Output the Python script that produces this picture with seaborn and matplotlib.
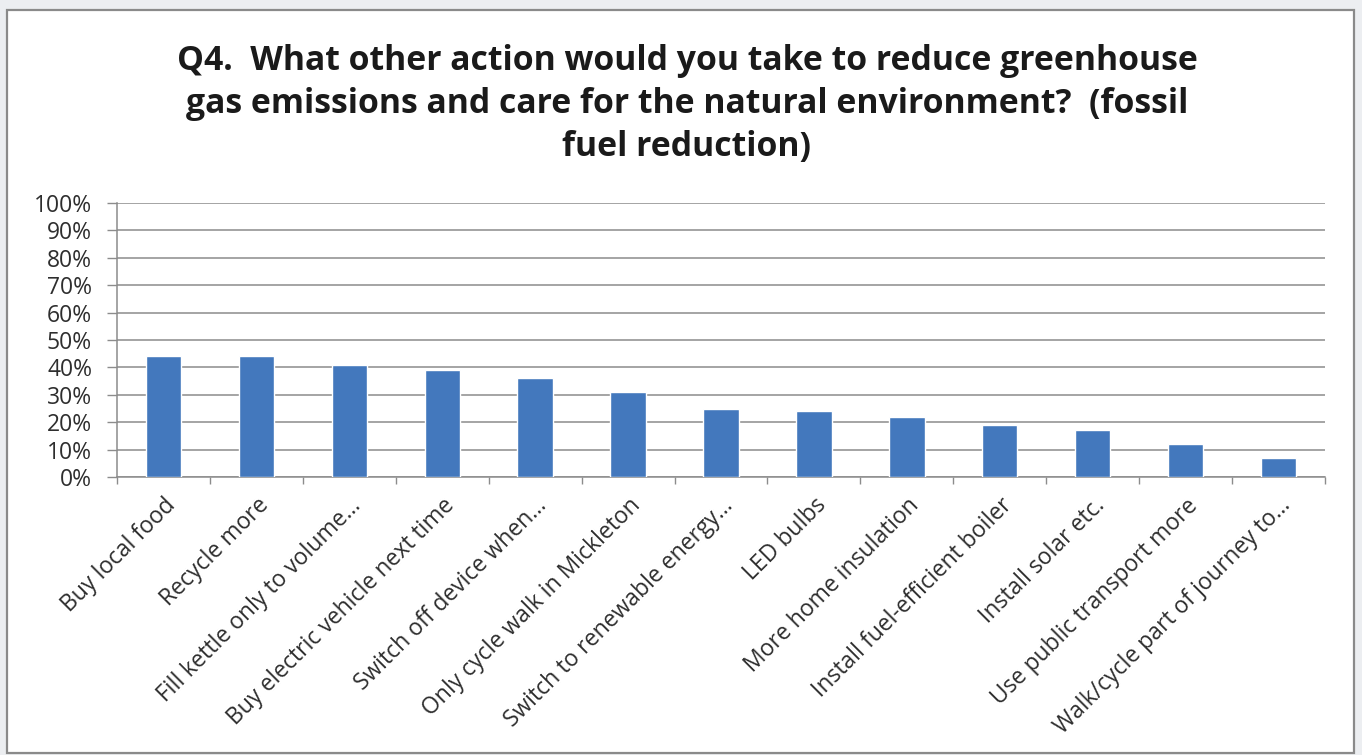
import matplotlib
matplotlib.use("Agg")
import matplotlib.pyplot as plt
import matplotlib.patches as mpatches
from matplotlib.ticker import FixedLocator, PercentFormatter
import seaborn as sns
import pandas as pd
import numpy as np

# Survey answers: share of respondents choosing each action
actions = [
    "Buy local food",
    "Recycle more",
    "Fill kettle only to volume...",
    "Buy electric vehicle next time",
    "Switch off device when...",
    "Only cycle walk in Mickleton",
    "Switch to renewable energy...",
    "LED bulbs",
    "More home insulation",
    "Install fuel-efficient boiler",
    "Install solar etc.",
    "Use public transport more",
    "Walk/cycle part of journey to...",
]
shares = [44, 44, 41, 39, 36, 31, 25, 24, 22, 19, 17, 12, 7]
y_ticks = [0, 10, 20, 30, 40, 50, 60, 70, 80, 90, 100]

title_text = ("Q4.  What other action would you take to reduce greenhouse\n"
              "gas emissions and care for the natural environment?  (fossil\n"
              "fuel reduction)")

sns.set_theme(style="white")
plt.rcParams["font.family"] = ["Open Sans", "DejaVu Sans"]

W, H = 1362, 755
fig = plt.figure(figsize=(W / 100, H / 100), dpi=100)
fig.patch.set_facecolor("#eceef1")

# white chart frame behind everything
frame = mpatches.Rectangle((7 / W, 1 - 753 / H), (1354 - 7) / W, (753 - 10) / H,
                           transform=fig.transFigure, facecolor="white",
                           edgecolor="#8a8a8a", linewidth=1.6, zorder=-10)
fig.patches.append(frame)

ax = fig.add_axes([117 / W, 1 - 477 / H, (1325 - 117) / W, (477 - 203) / H])
ax.set_zorder(5)
ax.set_facecolor("none")

df = pd.DataFrame({"action": actions, "share": shares})
sns.barplot(data=df, x="action", y="share", color="#4378bd", saturation=1,
            width=0.38, ax=ax, zorder=3)

ax.set_ylim(0, 100)
ax.set_xlim(-0.5, len(actions) - 0.5)
ax.set_yticks(y_ticks)
ax.yaxis.set_major_formatter(PercentFormatter(decimals=0))
ax.grid(axis="y", color="#8c8c8c", linewidth=1.1, zorder=0)
ax.set_axisbelow(True)

for side in ("top", "right"):
    ax.spines[side].set_visible(False)
for side in ("left", "bottom"):
    ax.spines[side].set_color("#8c8c8c")
    ax.spines[side].set_linewidth(1.1)

ax.tick_params(axis="y", left=True, length=7, width=1, color="#8c8c8c",
               pad=11, labelsize=16.5, labelcolor="#2e2e2e")
# category separators on the x axis
ax.xaxis.set_minor_locator(FixedLocator(np.arange(-0.5, len(actions), 1.0)))
ax.tick_params(axis="x", which="minor", bottom=True, length=5, width=1,
               color="#8c8c8c")
ax.tick_params(axis="x", which="major", bottom=False, pad=6,
               labelsize=16.5, labelcolor="#2e2e2e")
plt.setp(ax.get_xticklabels(), rotation=45, ha="right", rotation_mode="anchor")

ax.set_xlabel("")
ax.set_ylabel("")

fig.text(687 / W, 1 - 104 / H, title_text, ha="center", va="center",
         fontsize=24.3, fontweight="bold", color="#1a1a1a", linespacing=1.33)

fig.savefig("out.png", dpi=100, facecolor=fig.get_facecolor())
